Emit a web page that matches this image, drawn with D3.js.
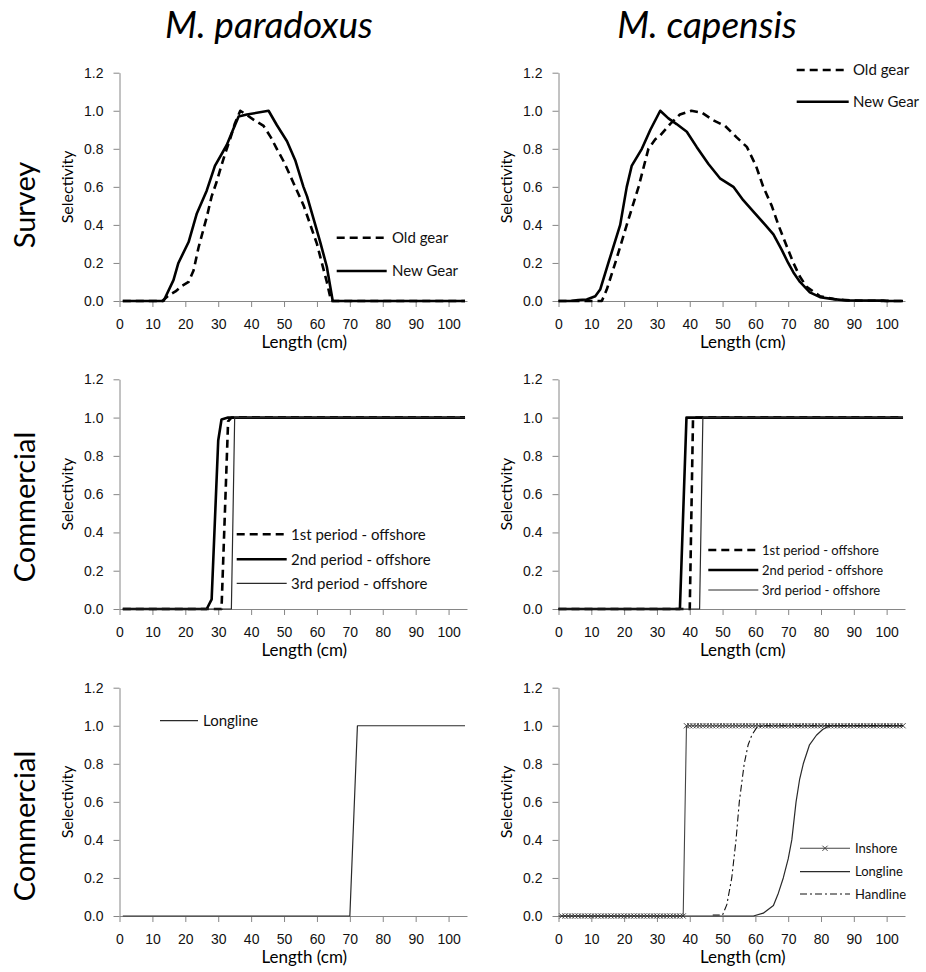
<!DOCTYPE html>
<html>
<head>
<meta charset="utf-8">
<script src="https://cdn.jsdelivr.net/npm/d3@7"></script>
<style>
  body { margin: 0; background: #fff; }
  svg { display: block; font-family: Lato, "Open Sans", sans-serif; }
  .tick text { fill: #111; font-size: 14px; }
  .domain, .tick line { stroke: #868686; }
</style>
</head>
<body>
<div id="chart"></div>
<script>
// axis ticks
const lengthTicks = [0, 10, 20, 30, 40, 50, 60, 70, 80, 90, 100];
const selTicks = [0, 0.2, 0.4, 0.6, 0.8, 1.0, 1.2];

const speciesTitles = ['M. paradoxus', 'M. capensis'];
const rowTitles = ['Survey', 'Commercial', 'Commercial'];

// M. paradoxus, survey  [length, selectivity]
const parSurveyOld = [[1,0],[13,0],[15,0.03],[17,0.05],[19,0.08],[21,0.1],[22.5,0.16],[24,0.28],[26.5,0.44],
  [28,0.55],[29.4,0.62],[30.6,0.69],[32,0.77],[33.6,0.85],[35,0.93],[36.7,1.0],[38.5,0.98],[41,0.95],
  [43.8,0.92],[46,0.86],[47.8,0.8],[50,0.73],[53.4,0.6],[56,0.5],[58,0.4],[60,0.3],[61.5,0.2],
  [63,0.1],[64.3,0],[105,0]];
const parSurveyNew = [[1,0],[13.4,0],[16.4,0.11],[17.9,0.2],[21,0.31],[22.5,0.4],[23.5,0.46],[26.5,0.58],
  [29,0.71],[32.6,0.82],[34.5,0.9],[36.2,0.97],[38.7,0.98],[45.3,1.0],[47.8,0.925],[50.9,0.84],
  [53.4,0.74],[55.9,0.6],[57,0.55],[59.5,0.4],[61,0.31],[63,0.18],[64.8,0],[105,0]];

// M. capensis, survey
const capSurveyOld = [[0,0],[13.2,0],[14.7,0.06],[17.3,0.2],[20.8,0.4],[24.4,0.6],[27.4,0.8],[29.5,0.85],
  [31,0.87],[34,0.93],[37,0.98],[40.5,1.0],[43.7,0.99],[47.2,0.95],[50.8,0.92],[54.3,0.86],[57.4,0.81],
  [60.2,0.71],[62.4,0.6],[65,0.5],[67,0.4],[69.5,0.29],[71.6,0.2],[73.5,0.13],[75.6,0.075],[79.7,0.025],
  [84.8,0.008],[90,0.002],[105,0]];
const capSurveyNew = [[0,0],[3.6,0],[6,0.005],[8.6,0.008],[11.2,0.025],[12.7,0.06],[15.2,0.2],[17,0.3],
  [18.8,0.4],[20.8,0.6],[22.3,0.71],[25.4,0.8],[28,0.9],[31,1.0],[33.5,0.96],[36,0.93],[39.1,0.89],
  [42.1,0.81],[45.7,0.72],[49.2,0.645],[53.3,0.6],[56.3,0.53],[59.4,0.47],[63,0.4],[65.5,0.35],[68,0.27],
  [70,0.2],[71.6,0.15],[73.6,0.1],[76.6,0.045],[79.7,0.02],[83.8,0.01],[87.8,0.003],[99,0.002],[100,0],[105,0]];

// commercial, offshore periods
const parPeriod1 = [[1,0],[31,0],[33,0.98],[34,1.0],[105,1.0]];
const parPeriod2 = [[1,0],[26.5,0],[28,0.05],[30,0.88],[31,0.99],[33,1.0],[105,1.0]];
const parPeriod3 = [[1,0],[34,0],[35,1.0],[105,1.0]];
const capPeriod1 = [[0,0],[40,0],[41,1.0],[105,1.0]];
const capPeriod2 = [[0,0],[37,0],[39,1.0],[105,1.0]];
const capPeriod3 = [[0,0],[43,0],[44,1.0],[105,1.0]];

// commercial, other fleets
const parLongline = [[1,0],[70,0],[72.3,1.0],[105,1.0]];
const capLongline = [[0,0],[59.4,0],[62.4,0.015],[65.5,0.055],[67,0.12],[68.5,0.2],[70,0.3],[71.1,0.4],
  [72.4,0.6],[73.5,0.72],[74.6,0.8],[76.5,0.9],[78.6,0.95],[80.5,0.98],[82.7,1.0],[105,1.0]];
const capHandline = [[47,0.005],[50,0.005],[51.3,0.06],[52.8,0.2],[54.1,0.4],[55.1,0.6],[56.6,0.8],
  [57.8,0.9],[58.9,0.95],[60.4,0.99],[62,1.0],[105,1.0]];
const inshoreLengths = [1,2,3,4,5,6,7,8,9,10,11,12,13,14,15,16,17,18,19,20,21,22,23,24,25,26,27,28,29,30,
  31,32,33,34,35,36,37,38,39,40,41,42,43,44,45,46,47,48,49,50,51,52,53,54,55,56,57,58,59,60,
  61,62,63,64,65,66,67,68,69,70,71,72,73,74,75,76,77,78,79,80,81,82,83,84,85,86,87,88,89,90,
  91,92,93,94,95,96,97,98,99,100,101,102,103,104,105];
const inshoreSel = [0,0,0,0,0,0,0,0,0,0,0,0,0,0,0,0,0,0,0,0,0,0,0,0,0,0,0,0,0,0,
  0,0,0,0,0,0,0,0,1,1,1,1,1,1,1,1,1,1,1,1,1,1,1,1,1,1,1,1,1,1,
  1,1,1,1,1,1,1,1,1,1,1,1,1,1,1,1,1,1,1,1,1,1,1,1,1,1,1,1,1,1,
  1,1,1,1,1,1,1,1,1,1,1,1,1,1,1];

const W = 926, H = 972;
const styles = {
  thick:     { w: 2.6, color: '#000', dash: null },
  thickDash: { w: 2.6, color: '#000', dash: '8,5' },
  thin:      { w: 1.2, color: '#2a2a2a', dash: null },
  dashDot:   { w: 1.1, color: '#111', dash: '7,3,2,3' },
  inshore:   { w: 1.1, color: '#444', dash: null, marker: true }
};

const cols = [{ x0: 119.5, x1: 467 }, { x0: 558.5, x1: 905 }];
const rows = [{ top: 72.7, bottom: 301 }, { top: 379.3, bottom: 609 }, { top: 687.7, bottom: 916 }];

const panels = [
  { r: 0, c: 0, series: [
      { name: 'Old gear', data: parSurveyOld, style: 'thickDash' },
      { name: 'New Gear', data: parSurveyNew, style: 'thick' }],
    legend: { x: 336.7, len: 50, tx: 392, ys: [237.7, 271], size: 15 } },
  { r: 0, c: 1, series: [
      { name: 'Old gear', data: capSurveyOld, style: 'thickDash' },
      { name: 'New Gear', data: capSurveyNew, style: 'thick' }],
    legend: { x: 796.7, len: 52, tx: 853, ys: [70, 101.7], size: 15 } },
  { r: 1, c: 0, series: [
      { name: '1st period - offshore', data: parPeriod1, style: 'thickDash' },
      { name: '2nd period - offshore', data: parPeriod2, style: 'thick' },
      { name: '3rd period - offshore', data: parPeriod3, style: 'thin' }],
    legend: { x: 236.7, len: 50, tx: 291, ys: [534.3, 559.3, 583.3], size: 15 } },
  { r: 1, c: 1, series: [
      { name: '1st period - offshore', data: capPeriod1, style: 'thickDash' },
      { name: '2nd period - offshore', data: capPeriod2, style: 'thick' },
      { name: '3rd period - offshore', data: capPeriod3, style: 'thin' }],
    legend: { x: 708.3, len: 50, tx: 762, ys: [550, 570, 590], size: 13 } },
  { r: 2, c: 0, series: [
      { name: 'Longline', data: parLongline, style: 'thin' }],
    legend: { x: 160, len: 38, tx: 203, ys: [720.7], size: 15 } },
  { r: 2, c: 1, series: [
      { name: 'Inshore', data: inshoreLengths.map((l, i) => [l, inshoreSel[i]]), style: 'inshore' },
      { name: 'Longline', data: capLongline, style: 'thin' },
      { name: 'Handline', data: capHandline, style: 'dashDot' }],
    legend: { x: 800, len: 50, tx: 855, ys: [848.3, 871.7, 894], size: 13 } }
];

const svg = d3.select('#chart').append('svg')
  .attr('width', W).attr('height', H)
  .attr('viewBox', `0 0 ${W} ${H}`);

const xMark = 'M-2.6,-2.6L2.6,2.6M-2.6,2.6L2.6,-2.6';

function styleLine(sel, st) {
  sel.attr('fill', 'none')
    .attr('stroke', st.color)
    .attr('stroke-width', st.w)
    .attr('stroke-dasharray', st.dash)
    .attr('stroke-linejoin', 'round');
}

panels.forEach(p => {
  const col = cols[p.c], row = rows[p.r];
  const x = d3.scaleLinear().domain([0, 105.6]).range([col.x0, col.x1]);
  const y = d3.scaleLinear().domain([0, 1.2]).range([row.bottom, row.top]);
  const g = svg.append('g');

  g.append('g')
    .attr('transform', `translate(0,${row.bottom})`)
    .call(d3.axisBottom(x).tickValues(lengthTicks).tickSize(6).tickSizeOuter(0).tickPadding(12));
  g.append('g')
    .attr('transform', `translate(${col.x0},0)`)
    .call(d3.axisLeft(y).tickValues(selTicks).tickFormat(d3.format('.1f'))
      .tickSize(6).tickSizeOuter(0).tickPadding(10));

  // axis labels
  g.append('text')
    .attr('transform', `translate(${col.x0 - 47},${(row.top + row.bottom) / 2})rotate(-90)`)
    .attr('text-anchor', 'middle')
    .style('font-size', '16px')
    .text('Selectivity');
  g.append('text')
    .attr('x', (col.x0 + col.x1) / 2 + 11)
    .attr('y', row.bottom + 47)
    .attr('text-anchor', 'middle')
    .style('font-size', '17px')
    .text('Length (cm)');

  const line = d3.line().x(d => x(d[0])).y(d => y(d[1]));
  p.series.forEach(s => {
    const st = styles[s.style];
    g.append('path').datum(s.data).attr('d', line).call(styleLine, st);
    if (st.marker) {
      g.selectAll(null).data(s.data).join('path')
        .attr('d', xMark)
        .attr('transform', d => `translate(${x(d[0])},${y(d[1])})`)
        .attr('stroke', '#444').attr('stroke-width', 1).attr('fill', 'none');
    }
  });

  // legend
  const lg = p.legend;
  p.series.forEach((s, i) => {
    const st = styles[s.style];
    const ly = lg.ys[i];
    g.append('line')
      .attr('x1', lg.x).attr('x2', lg.x + lg.len)
      .attr('y1', ly).attr('y2', ly)
      .call(styleLine, st);
    if (st.marker) {
      g.append('path').attr('d', xMark)
        .attr('transform', `translate(${lg.x + lg.len / 2},${ly})`)
        .attr('stroke', '#444').attr('stroke-width', 1);
    }
    g.append('text')
      .attr('x', lg.tx).attr('y', ly)
      .attr('dy', '0.35em')
      .style('font-size', lg.size + 'px')
      .attr('fill', '#111')
      .text(s.name);
  });
});

// column titles
speciesTitles.forEach((t, i) => {
  svg.append('text')
    .attr('x', [269, 707][i]).attr('y', 38)
    .attr('text-anchor', 'middle')
    .style('font-size', '37px')
    .style('font-style', 'italic')
    .text(t);
});

// row titles
rowTitles.forEach((t, i) => {
  svg.append('text')
    .attr('transform', `translate(35,${[205, 507, 826][i]})rotate(-90)`)
    .attr('text-anchor', 'middle')
    .style('font-size', '29px')
    .text(t);
});
</script>
</body>
</html>
